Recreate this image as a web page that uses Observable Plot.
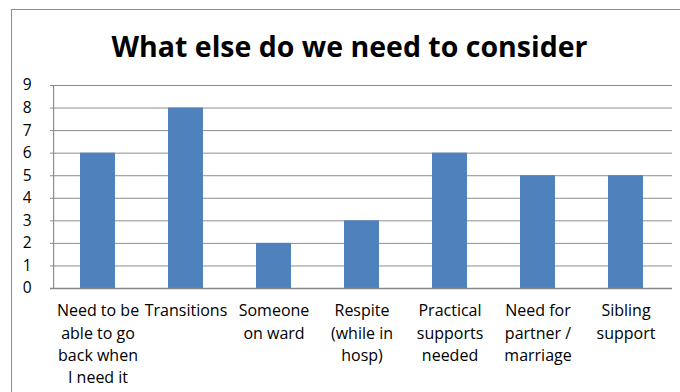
<!DOCTYPE html>
<html>
<head>
<meta charset="utf-8">
<script src="https://cdn.jsdelivr.net/npm/d3@7"></script>
<script src="https://cdn.jsdelivr.net/npm/@observablehq/plot@0.6"></script>
<style>
  html, body { margin: 0; padding: 0; background: #fff; }
  #wrap { position: relative; width: 680px; height: 392px; overflow: hidden; }
  #border { position: absolute; left: 11px; top: 9px; width: 720px; height: 420px; border: 1px solid #8c8c8c; box-sizing: border-box; }
  #chart { position: absolute; left: 0; top: 0; }
</style>
</head>
<body>
<div id="wrap"><div id="border"></div><div id="chart"></div></div>
<script>
const title = "What else do we need to consider";
const categories = [
  "Need to be able to go back when I need it",
  "Transitions",
  "Someone on ward",
  "Respite (while in hosp)",
  "Practical supports needed",
  "Need for partner / marriage",
  "Sibling support"
];
const tickLabels = [
  "Need to be\nable to go\nback when\nI need it",
  "Transitions",
  "Someone\non ward",
  "Respite\n(while in\nhosp)",
  "Practical\nsupports\nneeded",
  "Need for\npartner /\nmarriage",
  "Sibling\nsupport"
];
const values = [6, 8, 2, 3, 6, 5, 5];
const yTicks = [0, 1, 2, 3, 4, 5, 6, 7, 8, 9];

const data = categories.map((c, i) => ({category: c, value: values[i]}));
const labelOf = new Map(categories.map((c, i) => [c, tickLabels[i]]));

const W = 680, ML = 50, MR = 8;
const step = (W - ML - MR) / categories.length;

const chart = Plot.plot({
  width: W,
  height: 392,
  marginLeft: ML,
  marginRight: MR,
  marginTop: 85,
  marginBottom: 104,
  style: {fontFamily: "'Open Sans', sans-serif", fontSize: "15px", color: "#000", background: "transparent"},
  x: {domain: categories, paddingInner: 0.606, paddingOuter: 0.303, label: null},
  y: {domain: [0, 9], label: null},
  marks: [
    Plot.gridY(yTicks, {stroke: "#8c8c8c", strokeOpacity: 1, strokeWidth: 1}),
    Plot.ruleX([categories[0]], {y1: 0, y2: 9, dx: -step / 2, stroke: "#8c8c8c", strokeWidth: 1.2}),
    Plot.barY(data, {x: "category", y: "value", fill: "#4F81BD"}),
    Plot.ruleY([0], {stroke: "#868686", strokeWidth: 1.5}),
    Plot.axisY(yTicks, {tickSize: 0, tickPadding: 19, label: null, fontSize: 15.5, fill: "#000"}),
    Plot.axisX({tickSize: 0, tickPadding: 12, label: null, fontSize: 16, lineHeight: 1.39, fill: "#000",
      tickFormat: d => labelOf.get(d), textOverflow: null}),
    Plot.text([title], {frameAnchor: "top", dx: -12, dy: -49, fontSize: 28.5, fontWeight: "bold", fill: "#000", text: d => d})
  ]
});
document.getElementById("chart").appendChild(chart);
</script>
</body>
</html>
